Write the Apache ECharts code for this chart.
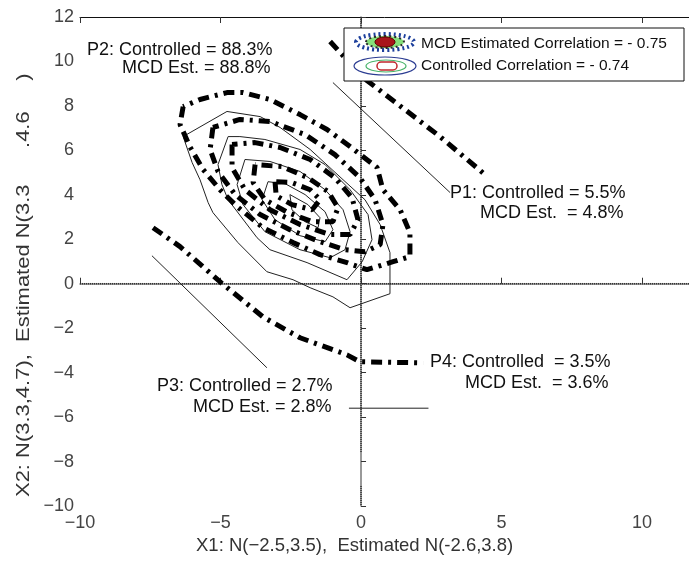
<!DOCTYPE html>
<html>
<head>
<meta charset="utf-8">
<script src="https://cdn.jsdelivr.net/npm/echarts@6/dist/echarts.min.js"></script>
<style>
  html, body { margin: 0; padding: 0; background: #fff; }
  #chart { width: 689px; height: 561px; }
</style>
</head>
<body>
<div id="chart"></div>
<script>
// controlled correlation contours (thin solid), outer to inner
const ctrl1 = [[-4.77,7.75],[-6.33,6.62],[-6.01,5.45],[-5.73,4.68],[-5.44,3.65],[-5.27,3.2],[-4.38,1.85],[-3.35,0.54],[-2.42,0.18],[-1.81,-0.18],[-1.0,-0.59],[-0.39,-1.08],[1.03,-0.45],[1.03,1.4],[0.68,2.66],[0.14,3.78],[-0.64,4.68],[-1.81,6.04],[-2.88,7.03],[-3.59,7.52],[-4.77,7.75]];
const ctrl2 = [[-4.73,6.62],[-5.09,5.36],[-4.95,4.46],[-4.73,3.78],[-3.7,2.07],[-3.24,1.53],[-1.92,0.95],[-0.5,0.18],[0.04,0.99],[0.39,1.98],[0.25,3.11],[-0.39,4.23],[-1.28,5.36],[-2.17,6.04],[-3.42,6.49],[-4.31,6.62],[-4.73,6.62]];
const ctrl3 = [[-4.13,5.59],[-4.41,4.46],[-4.2,3.56],[-3.42,2.34],[-2.17,1.53],[-1.1,1.17],[-0.57,1.53],[-0.39,2.34],[-0.64,3.33],[-1.28,4.23],[-2.17,5.05],[-3.24,5.5],[-4.13,5.59]];
const ctrl4 = [[-3.31,4.59],[-3.52,3.78],[-3.06,2.88],[-2.17,2.16],[-1.28,1.89],[-1.0,2.43],[-1.28,3.24],[-1.99,4.01],[-2.7,4.5],[-3.31,4.59]];
const ctrl5 = [[-2.53,4.01],[-2.46,3.33],[-1.99,2.79],[-1.53,2.52],[-1.46,2.97],[-1.89,3.56],[-2.53,4.01]];

// MCD estimated contours (thick dash-dot), outer to inner
const mcd1 = [[-6.33,7.97],[-6.44,7.16],[-6.09,6.17],[-5.62,5.14],[-5.02,4.23],[-4.41,3.47],[-3.49,2.52],[-2.42,1.85],[-1.46,1.31],[-0.5,0.95],[0.21,0.63],[1.14,0.99],[1.74,1.22],[1.74,2.3],[1.39,3.33],[0.78,4.23],[0.57,5.23],[-0.39,6.17],[-1.21,6.94],[-2.17,7.61],[-3.24,8.29],[-4.2,8.6],[-4.77,8.6],[-5.73,8.29],[-6.33,7.97]];
const mcd2 = [[-5.27,7.03],[-5.37,6.04],[-5.09,5.05],[-4.48,4.01],[-3.59,3.11],[-2.53,2.43],[-1.46,1.89],[-0.57,1.53],[0.14,1.44],[0.68,1.76],[0.78,2.66],[0.5,3.78],[-0.04,4.77],[-0.93,5.81],[-1.99,6.71],[-3.24,7.3],[-4.31,7.39],[-5.27,7.03]];
const mcd3 = [[-4.59,6.26],[-4.59,5.23],[-4.13,4.23],[-3.24,3.33],[-2.17,2.66],[-1.1,2.21],[-0.39,2.21],[-0.11,2.88],[-0.32,3.87],[-0.93,4.77],[-1.81,5.59],[-2.88,6.13],[-3.77,6.35],[-4.59,6.26]];
const mcd4 = [[-3.77,5.36],[-3.84,4.55],[-3.42,3.78],[-2.6,3.2],[-1.74,2.79],[-1.0,2.79],[-0.82,3.42],[-1.17,4.14],[-1.89,4.77],[-2.81,5.27],[-3.77,5.36]];
const mcd5 = [[-3.06,4.59],[-3.02,3.96],[-2.46,3.56],[-1.74,3.33],[-1.46,3.78],[-1.81,4.23],[-2.46,4.55],[-3.06,4.59]];

// outer probability boundaries
const p1Mcd = [[-1.1,10.9],[0.07,9.28],[2.81,6.62],[4.41,4.91]];
const p1Ctrl = [[-1.0,9.05],[3.17,4.1]];
const p34Mcd = [[-7.4,2.52],[-6.44,1.67],[-5.02,0.09],[-3.49,-1.49],[-2.17,-2.43],[-0.5,-3.2],[-0.04,-3.51],[2.21,-3.56]];
const p3Ctrl = [[-7.44,1.26],[-3.35,-3.78]];
const p3Mark = [[-0.43,-5.6],[2.4,-5.6]];

// quadrant split at the origin
const hSplit = [[-10,0],[12,0]];
const vSplitTop = [[0,12],[0,-7.6]];
const vSplitBottom = [[0,-9.1],[0,-10]];

const xMin = -10, xMax = 11.67, xStep = 5;
const yMin = -10, yMax = 12, yStep = 2;

const labels = [
  {text: 'P2: Controlled = 88.3%', x: 87, y: 50},
  {text: 'MCD Est. = 88.8%', x: 122, y: 68},
  {text: 'P1: Controlled = 5.5%', x: 450, y: 193},
  {text: 'MCD Est.  = 4.8%', x: 480, y: 213},
  {text: 'P3: Controlled = 2.7%', x: 157, y: 386},
  {text: 'MCD Est. = 2.8%', x: 193, y: 407},
  {text: 'P4: Controlled  = 3.5%', x: 430, y: 362},
  {text: 'MCD Est.  = 3.6%', x: 465, y: 383}
];

const FONT = '"Liberation Sans", Arial, sans-serif';
const minus = v => String(v).replace('-', '\u2212');

const thin = {color: '#222', width: 1, type: 'solid'};
const dashDot = {color: '#000', width: 5, type: [11, 6, 3, 6], cap: 'butt'};
const dotted = {color: '#333', width: 1.5, type: [1, 1]};

function line(data, style) {
  return {
    type: 'line', data: data, showSymbol: false, symbol: 'none',
    lineStyle: style, silent: true, clip: true, z: 3
  };
}

let chart = echarts.init(document.getElementById('chart'));
let option = {
  animation: false,
  backgroundColor: '#fff',
  grid: {left: 80, top: 17, right: 0, bottom: 55},
  xAxis: [
    {
      type: 'value', min: xMin, max: xMax, interval: xStep,
      axisLine: {lineStyle: {color: '#777', width: 1.5}},
      axisTick: {inside: true, length: 6, lineStyle: {color: '#333'}},
      axisLabel: {color: '#444', fontSize: 18, fontFamily: FONT, margin: 8, formatter: minus, showMaxLabel: false},
      splitLine: {show: false}
    },
    {
      type: 'value', position: 'top', min: xMin, max: xMax, interval: xStep,
      axisLine: {lineStyle: {color: '#111', width: 1}},
      axisTick: {inside: true, length: 6, lineStyle: {color: '#333'}},
      axisLabel: {show: false},
      splitLine: {show: false}
    }
  ],
  yAxis: {
    type: 'value', min: yMin, max: yMax, interval: yStep,
    axisLine: {lineStyle: {color: '#777', width: 1.5}},
    axisTick: {inside: true, length: 5, lineStyle: {color: '#333'}},
    axisLabel: {color: '#444', fontSize: 18, fontFamily: FONT, margin: 6, formatter: minus},
    splitLine: {show: false}
  },
  series: [
    line(hSplit, dotted),
    line(vSplitTop, dotted),
    line(vSplitBottom, dotted),
    line(ctrl1, thin), line(ctrl2, thin), line(ctrl3, thin), line(ctrl4, thin), line(ctrl5, thin),
    line(p1Ctrl, thin), line(p3Ctrl, thin), line(p3Mark, thin),
    line(mcd1, dashDot), line(mcd2, dashDot), line(mcd3, dashDot), line(mcd4, dashDot), line(mcd5, dashDot),
    line(p1Mcd, dashDot), line(p34Mcd, dashDot)
  ],
  graphic: [
    {
      type: 'text', x: 196, y: 546, z: 10,
      style: {text: 'X1: N(\u22122.5,3.5),  Estimated N(-2.6,3.8)', fill: '#333', font: '18.5px ' + FONT,
        align: 'left', verticalAlign: 'middle'}
    },
    {
      type: 'text', x: 24, y: 497, rotation: Math.PI / 2, scaleX: 1.22, z: 10,
      style: {text: 'X2: N(3.3,4.7),  Estimated N(3.3      .4.6     )', fill: '#333', font: '18px ' + FONT,
        align: 'left', verticalAlign: 'middle'}
    },
    // legend box
    {
      type: 'rect', shape: {x: 344, y: 28, width: 340, height: 53}, z: 20,
      style: {fill: '#fff', stroke: '#111', lineWidth: 1}
    },
    {
      type: 'ellipse', shape: {cx: 385, cy: 42, rx: 29, ry: 8}, z: 21,
      style: {fill: '#fff', stroke: '#1c3f9c', lineWidth: 4, lineDash: [2, 3]}
    },
    {
      type: 'ellipse', shape: {cx: 385, cy: 42, rx: 19, ry: 6}, z: 21,
      style: {fill: '#86e07a', stroke: '#2a2a2a', lineWidth: 2, lineDash: [2, 3]}
    },
    {
      type: 'ellipse', shape: {cx: 385, cy: 42, rx: 10, ry: 5}, z: 22,
      style: {fill: '#a8141a', stroke: '#5a0000', lineWidth: 1}
    },
    {
      type: 'ellipse', shape: {cx: 385, cy: 66, rx: 31, ry: 9}, z: 21,
      style: {fill: '#fff', stroke: '#2b3c92', lineWidth: 1.2}
    },
    {
      type: 'ellipse', shape: {cx: 386, cy: 66, rx: 20, ry: 6}, z: 21,
      style: {fill: '#fff', stroke: '#49b36a', lineWidth: 1.2}
    },
    {
      type: 'rect', shape: {x: 377, y: 62, width: 20, height: 8, r: 4}, z: 22,
      style: {fill: '#fff', stroke: '#c0262c', lineWidth: 1.5}
    },
    {
      type: 'text', left: 421, top: 36, z: 22,
      style: {text: 'MCD Estimated Correlation = - 0.75', fill: '#111', font: '15.5px ' + FONT}
    },
    {
      type: 'text', left: 421, top: 58, z: 22,
      style: {text: 'Controlled Correlation = - 0.74', fill: '#111', font: '15.5px ' + FONT}
    }
  ].concat(labels.map(l => ({
    type: 'text', x: l.x, y: l.y, z: 15,
    style: {text: l.text, fill: '#111', font: '18px ' + FONT, align: 'left', verticalAlign: 'middle'}
  })))
};
chart.setOption(option);
</script>
</body>
</html>
